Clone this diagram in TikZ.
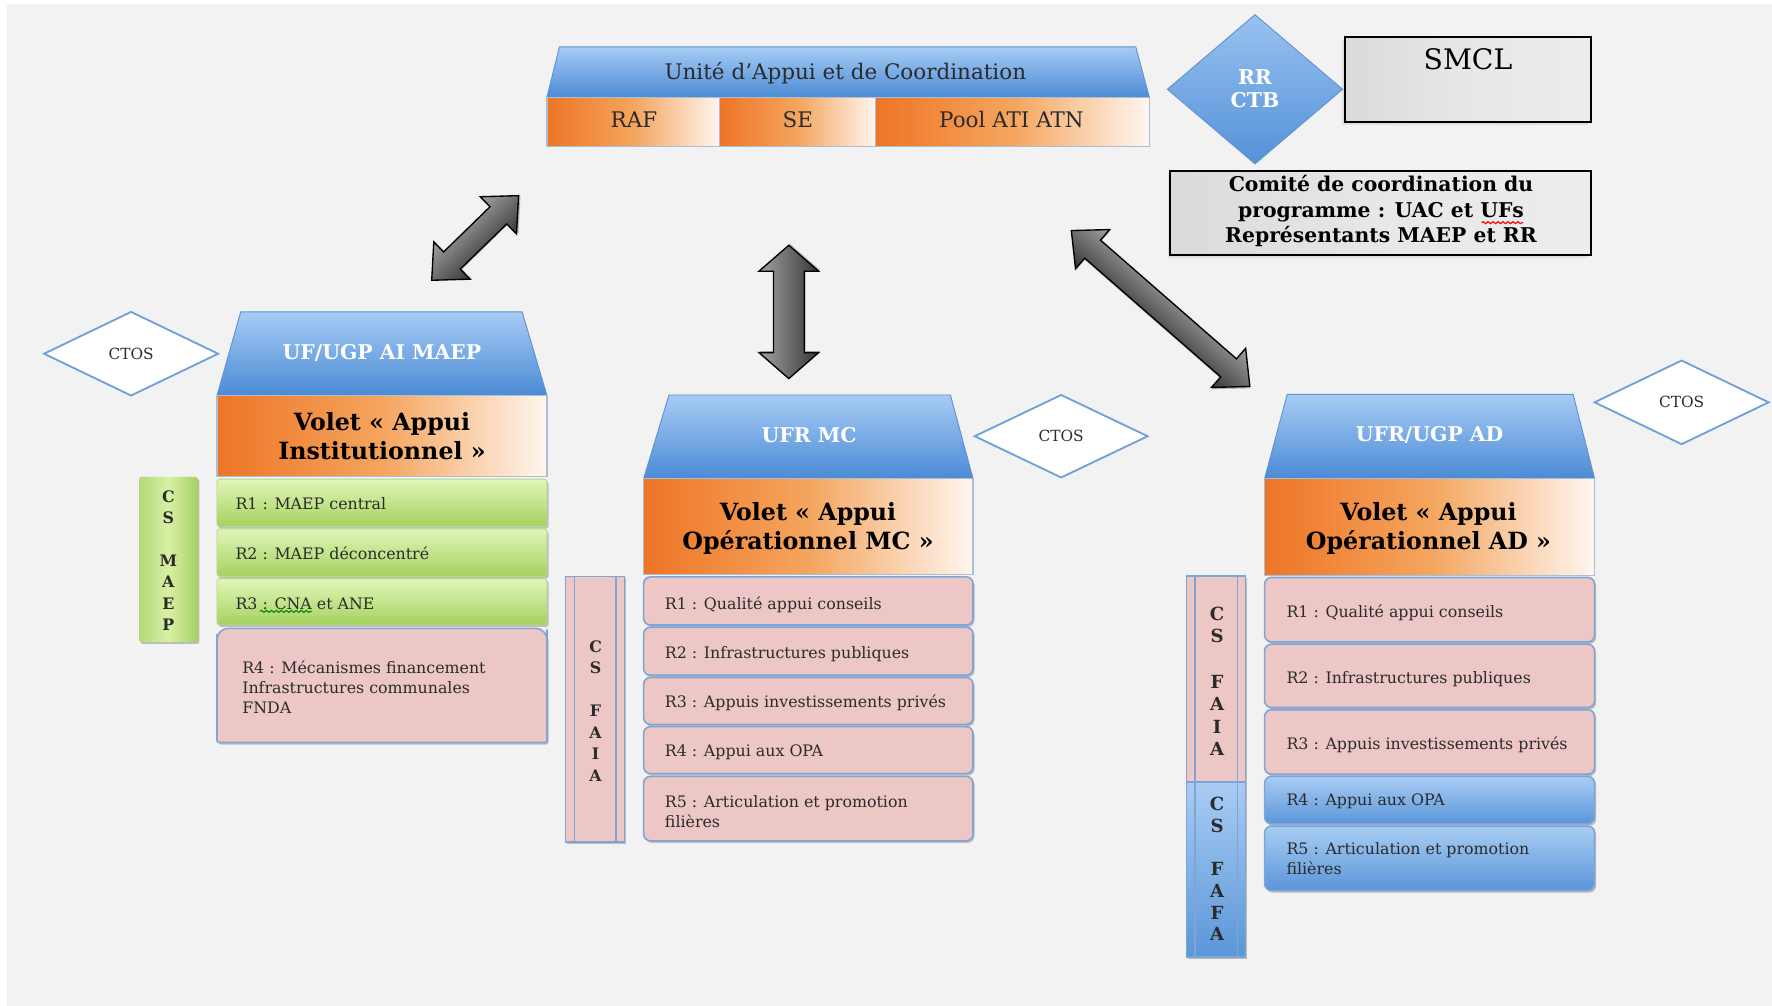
\documentclass[tikz,border=0pt]{standalone}
\usepackage{fontspec}
\setmainfont{DejaVu Serif}
\usetikzlibrary{calc,shadows,decorations.pathmorphing}

\definecolor{pagebg}{HTML}{F2F2F2}
\definecolor{blueT}{HTML}{A7CBF5}
\definecolor{blueB}{HTML}{4B8BD5}
\definecolor{blueE}{HTML}{5F92CE}
\definecolor{orA}{HTML}{EE7526}
\definecolor{orM}{HTML}{F4A55E}
\definecolor{orW}{HTML}{FFF6F0}
\definecolor{cellE}{HTML}{A9BED8}
\definecolor{pinkF}{HTML}{EDC6C6}
\definecolor{pinkE}{HTML}{7FA5D6}
\definecolor{grT}{HTML}{E2F5BA}
\definecolor{grB}{HTML}{A3D25E}
\definecolor{grE}{HTML}{B9D88E}
\definecolor{grS}{HTML}{B3D977}
\definecolor{grC}{HTML}{D8F0A4}
\definecolor{rowT}{HTML}{A9CCF3}
\definecolor{rowB}{HTML}{5A96D9}
\definecolor{ctosE}{HTML}{6E9FD7}
\definecolor{boxL}{HTML}{DADADA}
\definecolor{boxR}{HTML}{EDEDED}
\definecolor{inkc}{HTML}{2B2B2B}
\definecolor{arrowL}{HTML}{A2A2A2}
\definecolor{arrowM}{HTML}{6C6C6C}
\definecolor{arrowD}{HTML}{363636}

% double-headed block arrow between two named coordinates, shaded across its width
% #1,#2 tips; #3 head length; #4 head half width; #5 shaft half width
\newcommand\blockarrow[5]{%
  \path let \p1=($(#2)-(#1)$) in
    \pgfextra{\pgfmathsetmacro\tmpang{atan2(\y1,\x1)}%
              \pgfmathsetmacro\tmplen{veclen(\x1,\y1)}%
              \xdef\arrang{\tmpang}\xdef\arrlen{\tmplen}};
  \begin{scope}[transform canvas={shift={(#1)}, rotate=\arrang}]
    \path[arrowbody] (0pt,0pt) -- (#3,#4) -- (#3,#5)
      -- (\arrlen pt-#3,#5) -- (\arrlen pt-#3,#4) -- (\arrlen pt,0pt)
      -- (\arrlen pt-#3,-#4) -- (\arrlen pt-#3,-#5)
      -- (#3,-#5) -- (#3,-#4) -- cycle;
  \end{scope}
}

\begin{document}
\begin{tikzpicture}[x=0.5pt,y=-0.5pt,
  softshadow/.style={drop shadow={shadow xshift=0.7pt, shadow yshift=-0.9pt, opacity=.22, fill=black}},
  bluetrap/.style={top color=blueT, bottom color=blueB, draw=blueE, line width=0.4pt},
  orangecell/.style={left color=orA, right color=orW, middle color=orM, draw=cellE, line width=0.5pt},
  greenrow/.style={softshadow, top color=grT, bottom color=grB, draw=grE, line width=0.4pt, rounded corners=1.2pt},
  pinkrow/.style={softshadow, fill=pinkF, draw=pinkE, line width=0.7pt, rounded corners=3pt},
  bluerow/.style={softshadow, top color=rowT, bottom color=rowB, draw=pinkE, line width=0.7pt, rounded corners=3pt},
  csbox/.style={softshadow, fill=pinkF, draw=pinkE, line width=0.7pt},
  csline/.style={draw=pinkE, line width=0.7pt},
  ctosdia/.style={fill=white, draw=ctosE, line width=0.8pt},
  greybox/.style={drop shadow={shadow xshift=-1.2pt, shadow yshift=-1.2pt, opacity=.08, fill=black},
     left color=boxL, right color=boxR, middle color=boxR!70!boxL, draw=black, line width=0.9pt},
  arrowbody/.style={drop shadow={shadow xshift=0.6pt, shadow yshift=-0.6pt, opacity=.25, fill=black},
     top color=arrowL, bottom color=arrowD, middle color=arrowM, draw=black, line width=0.6pt},
  headtxt/.style={font=\bfseries\fontsize{9}{11}\selectfont, text=white, inner sep=0},
  volettxt/.style={font=\bfseries\fontsize{10.5}{13}\selectfont, text=black, align=center, inner sep=0},
  rtxt/.style={font=\fontsize{7}{9}\selectfont, text=inkc, anchor=west, align=left, inner sep=0},
  cstxt/.style={font=\bfseries\fontsize{7}{9.5}\selectfont, text=inkc, align=center, inner sep=0},
  ctostxt/.style={font=\fontsize{6.8}{8}\selectfont, text=inkc, inner sep=0},
  celltxt/.style={font=\fontsize{9.5}{11}\selectfont, text=inkc, inner sep=0},
  wavy/.style={decorate, decoration={snake, amplitude=0.45pt, segment length=2.2pt}, line width=0.5pt}
]
\useasboundingbox (0,0) rectangle (1568,890);
\fill[white] (0,0) rectangle (1568,890);
\fill[pagebg] (6.2,3.5) rectangle (1568,890);

% ---------- coordination unit ----------
\shade[bluetrap] (495,41.5) -- (1005,41.5) -- (1017,86) -- (484,86) -- cycle;
\node[celltxt] (uac) at (748,64.5) {Unité d'Appui et de Coordination};
\shade[orangecell] (484,86) rectangle (637,129.5);
\shade[orangecell] (637,86) rectangle (775,129.5);
\shade[orangecell] (775,86) rectangle (1017,129.5);
\node[celltxt] (raf) at (561,106) {RAF};
\node[celltxt] (se) at (706,106) {SE};
\node[celltxt] (pool) at (895,106) {Pool ATI ATN};

% ---------- steering bodies ----------
\shade[top color=blueT!85!blueB, bottom color=blueB!90!blueT, draw=blueE, line width=0.4pt]
  (1033,79) -- (1110.5,13) -- (1188,79) -- (1110.5,145) -- cycle;
\node[font=\bfseries\fontsize{9}{9.75}\selectfont, text=white, align=center, inner sep=0] (rrctb) at (1110.5,78.5) {RR\\CTB};

\shade[greybox] (1190,33) rectangle (1408,108);
\node[font=\fontsize{12.5}{14}\selectfont, text=black, inner sep=0] (smcl) at (1299,52) {SMCL};

\shade[greybox] (1035.5,151) rectangle (1408,225.5);
\node[font=\bfseries\fontsize{9}{11.25}\selectfont, text=black, align=center, inner sep=0] (comite) at (1222,187)
  {Comité de coordination du\\programme : UAC et UFs\\Représentants MAEP et RR};
\draw[red, wavy] (1311,197) -- (1348,197);

% ---------- left column : institutional support ----------
\draw[ctosdia] (39,313) -- (116,276) -- (193,313) -- (116,350) -- cycle;
\node[ctostxt] (ctos1) at (116,313) {CTOS};

\shade[bluetrap] (213,276) -- (462,276) -- (484,350) -- (192,350) -- cycle;
\node[headtxt] (aihead) at (338,312) {UF/UGP AI MAEP};
\shade[orangecell] (192,350) rectangle (484,422);
\node[volettxt] (aivolet) at (338,386) {Volet « Appui\\Institutionnel »};

\shade[greenrow] (192,424) rectangle (484,466);
\shade[greenrow] (192,468) rectangle (484,510);
\shade[greenrow] (192,512) rectangle (484,553);
\node[rtxt] (air1) at (208,446) {R1 : MAEP central};
\node[rtxt] (air2) at (208,490) {R2 : MAEP déconcentré};
\node[rtxt] (air3) at (208,534) {R3 : CNA et ANE};
\draw[green!55!black, wavy] (230,541) -- (276,541);
\path[pinkrow] (192,657) -- (192,567) [rounded corners=5pt] -- (192,556) -- (484,556) -- (484,567) [rounded corners=1pt] -- (484,657) -- cycle;
\node[rtxt, font=\fontsize{7}{8.9}\selectfont] (air4) at (214,608)
  {R4 : Mécanismes financement\\Infrastructures communales\\FNDA};

\shade[softshadow, left color=grS, right color=grB!90!grS, middle color=grC, rounded corners=1pt]
  (123,422) rectangle (175,568);
\node[cstxt] (csmaep) at (149,496) {C\\S\\~\\M\\A\\E\\P};

% ---------- middle column : operational support MC ----------
\draw[ctosdia] (862.5,386) -- (939,349.5) -- (1015.5,386) -- (939,422.5) -- cycle;
\node[ctostxt] (ctos2) at (939,386) {CTOS};

\shade[bluetrap] (592,349.5) -- (841,349.5) -- (861,423.5) -- (569.5,423.5) -- cycle;
\node[headtxt] (mchead) at (716,385) {UFR MC};
\shade[orangecell] (569.5,423.5) rectangle (861,508.5);
\node[volettxt] (mcvolet) at (715,467.5) {Volet « Appui\\Opérationnel MC »};

\path[pinkrow] (569.5,510.5) rectangle (861,553);
\path[pinkrow] (569.5,555) rectangle (861,597.5);
\path[pinkrow] (569.5,599.5) rectangle (861,641);
\path[pinkrow] (569.5,643) rectangle (861,684.5);
\path[pinkrow] (569.5,687) rectangle (861,744);
\node[rtxt] (mcr1) at (588,535) {R1 : Qualité appui conseils};
\node[rtxt] (mcr2) at (588,579) {R2 : Infrastructures publiques};
\node[rtxt] (mcr3) at (588,622) {R3 : Appuis investissements privés};
\node[rtxt] (mcr4) at (588,666) {R4 : Appui aux OPA};
\node[rtxt] (mcr5) at (588,718) {R5 : Articulation et promotion\\filières};

\path[csbox] (500.5,510) rectangle (552.5,745);
\draw[csline] (508.5,510) -- (508.5,745) (545,510) -- (545,745);
\node[cstxt] (csfaia1) at (527,629) {C\\S\\~\\F\\A\\I\\A};

% ---------- right column : operational support AD ----------
\draw[ctosdia] (1411,356) -- (1488,319) -- (1565,356) -- (1488,393) -- cycle;
\node[ctostxt] (ctos3) at (1488,356) {CTOS};

\shade[bluetrap] (1139,349) -- (1392,349) -- (1411,423.5) -- (1119,423.5) -- cycle;
\node[headtxt] (adhead) at (1265,385) {UFR/UGP AD};
\shade[orangecell] (1119,423.5) rectangle (1411,509);
\node[volettxt] (advolet) at (1264,467.5) {Volet « Appui\\Opérationnel AD »};

\path[pinkrow] (1119,511) rectangle (1411,568);
\path[pinkrow] (1119,570) rectangle (1411,626);
\path[pinkrow] (1119,628) rectangle (1411,685);
\shade[bluerow] (1119,687) rectangle (1411,729);
\shade[bluerow] (1119,731) rectangle (1411,788);
\node[rtxt] (adr1) at (1138,542) {R1 : Qualité appui conseils};
\node[rtxt] (adr2) at (1138,601) {R2 : Infrastructures publiques};
\node[rtxt] (adr3) at (1138,659) {R3 : Appuis investissements privés};
\node[rtxt] (adr4) at (1138,709) {R4 : Appui aux OPA};
\node[rtxt] (adr5) at (1138,760) {R5 : Articulation et promotion\\filières};

\path[csbox] (1050,509.5) rectangle (1102,692);
\shade[softshadow, top color=rowT, bottom color=rowB, draw=pinkE, line width=0.7pt] (1050,692) rectangle (1102,847);
\draw[csline] (1057.5,509.5) -- (1057.5,847) (1095,509.5) -- (1095,847);
\node[cstxt, font=\bfseries\fontsize{8}{10}\selectfont] (csfaia2) at (1077,603) {C\\S\\~\\F\\A\\I\\A};
\node[cstxt, font=\bfseries\fontsize{8}{9.6}\selectfont] (csfafa) at (1077,769) {C\\S\\~\\F\\A\\F\\A};

% ---------- links between the coordination unit and the columns ----------
\coordinate (a1s) at (382,248);
\coordinate (a1e) at (459,173);
\coordinate (a2s) at (698,335);
\coordinate (a2e) at (698,217);
\coordinate (a3s) at (948,204);
\coordinate (a3e) at (1106,342);
\blockarrow{a1s}{a1e}{12.5pt}{11.5pt}{5.3pt}
\blockarrow{a2s}{a2e}{11.5pt}{13.2pt}{6.8pt}
\blockarrow{a3s}{a3e}{12.5pt}{11.5pt}{5.3pt}
\end{tikzpicture}
\end{document}
